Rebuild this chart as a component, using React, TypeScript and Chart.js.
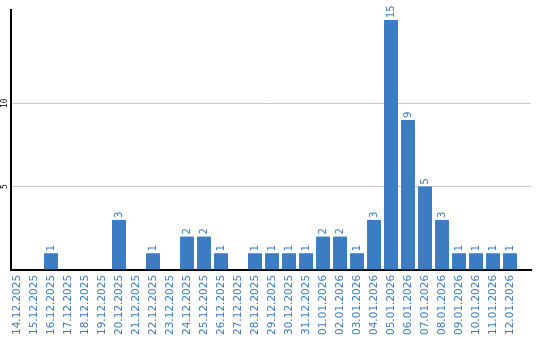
import React, { useEffect, useRef } from "react";
import { Chart, registerables } from "chart.js";

Chart.register(...registerables);

const categories = [
  "14.12.2025", "15.12.2025", "16.12.2025", "17.12.2025", "18.12.2025", "19.12.2025",
  "20.12.2025", "21.12.2025", "22.12.2025", "23.12.2025", "24.12.2025", "25.12.2025",
  "26.12.2025", "27.12.2025", "28.12.2025", "29.12.2025", "30.12.2025", "31.12.2025",
  "01.01.2026", "02.01.2026", "03.01.2026", "04.01.2026", "05.01.2026", "06.01.2026",
  "07.01.2026", "08.01.2026", "09.01.2026", "10.01.2026", "11.01.2026", "12.01.2026",
];
const counts = [0, 0, 1, 0, 0, 0, 3, 0, 1, 0, 2, 2, 1, 0, 1, 1, 1, 1, 2, 2, 1, 3, 15, 9, 5, 3, 1, 1, 1, 1];
const yTicksShown = [5, 10];

const BLUE = "#3b7cc2";
const LABEL_BLUE = "#3a7bbf";

const valueLabels = {
  id: "valueLabels",
  afterDatasetsDraw(chart: any) {
    const ctx = chart.ctx;
    const meta = chart.getDatasetMeta(0);
    ctx.save();
    ctx.font = "10px 'DejaVu Sans'";
    ctx.fillStyle = LABEL_BLUE;
    ctx.textAlign = "left";
    ctx.textBaseline = "middle";
    meta.data.forEach((bar: any, i: number) => {
      const v = counts[i];
      if (!v) return;
      ctx.save();
      ctx.translate(bar.x, bar.y - 2);
      ctx.rotate(-Math.PI / 2);
      ctx.fillText(String(v), 0, 0);
      ctx.restore();
    });
    // y tick labels, rotated and centered on their gridlines
    const ys = chart.scales.y;
    ctx.font = "8px 'DejaVu Sans Mono'";
    ctx.fillStyle = "#000";
    ctx.textAlign = "center";
    ctx.textBaseline = "middle";
    yTicksShown.forEach((t) => {
      const y = ys.getPixelForValue(t);
      ctx.save();
      ctx.translate(ys.left + 5, y);
      ctx.rotate(-Math.PI / 2);
      ctx.fillText(String(t), 0, 0);
      ctx.restore();
    });
    ctx.restore();
  },
};

export default function App() {
  const ref = useRef<HTMLCanvasElement>(null);
  useEffect(() => {
    document.body.style.margin = "0";
    const chart = new Chart(ref.current!, {
      type: "bar",
      data: {
        datasets: [
          {
            data: counts.map((v, i) => ({ x: i, y: v })),
            backgroundColor: BLUE,
            barPercentage: 0.82,
            categoryPercentage: 1,
          },
        ],
      },
      options: {
        animation: false,
        responsive: false,
        maintainAspectRatio: false,
        layout: { padding: { top: 10, right: 9, left: 0, bottom: 0 } },
        plugins: { legend: { display: false }, tooltip: { enabled: false } },
        scales: {
          x: {
            type: "linear",
            min: -0.353,
            max: 30.235,
            offset: false,
            grid: { display: false, drawTicks: false },
            border: { color: "#000", width: 2 },
            afterBuildTicks: (scale: any) => {
              scale.ticks = categories.map((_, i) => ({ value: i }));
            },
            ticks: {
              color: LABEL_BLUE,
              font: { family: "'DejaVu Sans'", size: 10.5 },
              minRotation: 90,
              maxRotation: 90,
              autoSkip: false,
              padding: 5,
              callback: (v: any) => categories[Math.round(Number(v))] ?? "",
            },
          },
          y: {
            min: 0,
            max: 15.6,
            afterFit: (scale: any) => {
              scale.width = 11;
            },
            grid: {
              drawTicks: false,
              color: (c: any) => (c.tick && yTicksShown.includes(c.tick.value) ? "#c8c8c8" : "rgba(0,0,0,0)"),
            },
            border: { color: "#000", width: 2 },
            ticks: {
              stepSize: 5,
              display: false,
            },
          },
        },
      },
      plugins: [valueLabels],
    });
    return () => chart.destroy();
  }, []);
  return (
    <div style={{ position: "absolute", left: 0, top: 0, width: 540, height: 340 }}>
      <canvas ref={ref} width={540} height={340} />
    </div>
  );
}
